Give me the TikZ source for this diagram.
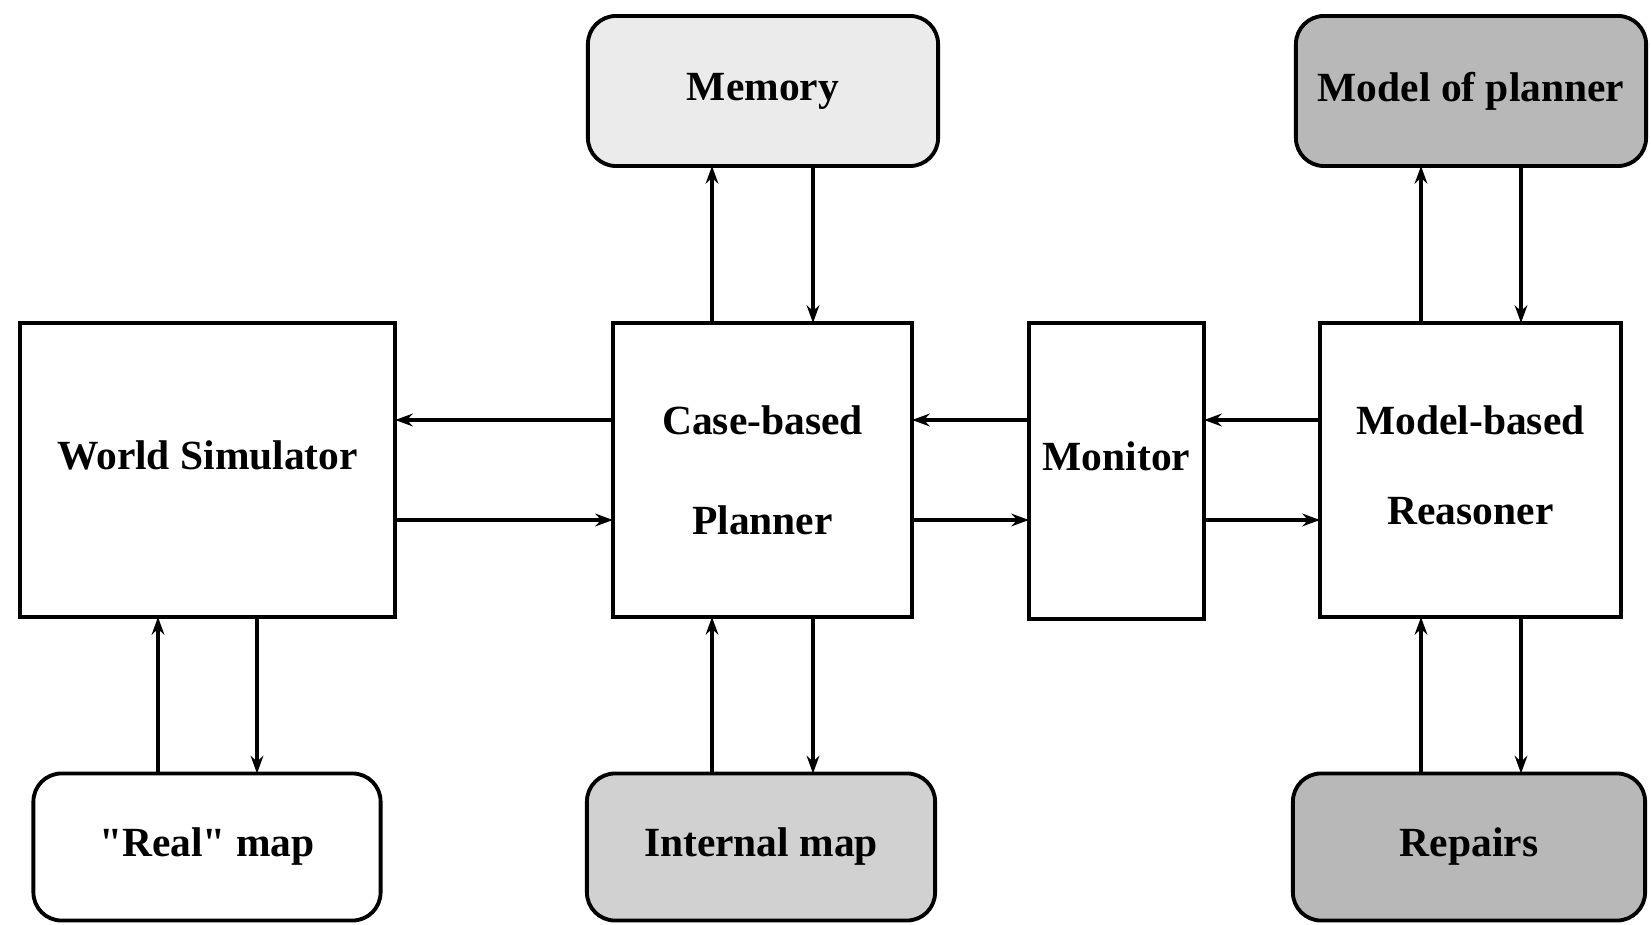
\documentclass[tikz,border=0pt]{standalone}
\usepackage{fontspec}
\setmainfont{Liberation Serif}
\usetikzlibrary{arrows.meta}
\begin{document}
\begin{tikzpicture}[x=0.01cm,y=-0.01cm,
  box/.style={draw,line width=1.1pt,inner sep=0pt,outer sep=0pt,align=center,
    font=\fontsize{11.8}{28.5}\selectfont\bfseries},
  rbox/.style={box,rounded corners=8pt},
  arr/.style={line width=0.9pt,-{Stealth[length=5pt,width=3.6pt]}}]
\useasboundingbox (0,0) rectangle (1651,925);
% rounded boxes
\node[rbox,fill=black!8,minimum width=3.50cm,minimum height=1.50cm] (mem) at (763,91) {Memory};
\node[rbox,fill=black!28,minimum width=3.50cm,minimum height=1.50cm] (mop) at (1471,91) {Model of planner};
\node[rbox,fill=white,minimum width=3.47cm,minimum height=1.47cm] (real) at (207,847) {\textquotedbl Real\textquotedbl{} map};
\node[rbox,fill=black!18,minimum width=3.48cm,minimum height=1.47cm] (imap) at (761,847) {Internal map};
\node[rbox,fill=black!28,minimum width=3.52cm,minimum height=1.47cm] (rep) at (1469,847) {Repairs};
% square boxes
\node[box,minimum width=3.75cm,minimum height=2.94cm,text depth=0.3cm] (ws) at (207.5,470) {World Simulator};
\node[box,minimum width=2.99cm,minimum height=2.94cm] (cbp) at (762.5,470) {Case-based\\Planner};
\node[box,minimum width=1.75cm,minimum height=2.96cm,text depth=0.3cm] (mon) at (1116.5,471) {Monitor};
\node[box,minimum width=3.01cm,minimum height=2.94cm,font=\fontsize{11.8}{25.6}\selectfont\bfseries,text depth=0.1cm] (mbr) at (1470.5,470) {Model-based\\Reasoner};
% guide coordinates
\coordinate (xa) at (158,0);
\coordinate (xb) at (257,0);
\coordinate (xc) at (712,0);
\coordinate (xd) at (813,0);
\coordinate (xe) at (1421,0);
\coordinate (xf) at (1521,0);
\coordinate (ya) at (0,420);
\coordinate (yb) at (0,520);
% vertical connectors
\draw[arr] (real.north -| xa) -- (ws.south -| xa);
\draw[arr] (ws.south -| xb) -- (real.north -| xb);
\draw[arr] (cbp.north -| xc) -- (mem.south -| xc);
\draw[arr] (mem.south -| xd) -- (cbp.north -| xd);
\draw[arr] (imap.north -| xc) -- (cbp.south -| xc);
\draw[arr] (cbp.south -| xd) -- (imap.north -| xd);
\draw[arr] (mbr.north -| xe) -- (mop.south -| xe);
\draw[arr] (mop.south -| xf) -- (mbr.north -| xf);
\draw[arr] (rep.north -| xe) -- (mbr.south -| xe);
\draw[arr] (mbr.south -| xf) -- (rep.north -| xf);
% horizontal connectors
\draw[arr] (cbp.west |- ya) -- (ws.east |- ya);
\draw[arr] (ws.east |- yb) -- (cbp.west |- yb);
\draw[arr] (mon.west |- ya) -- (cbp.east |- ya);
\draw[arr] (cbp.east |- yb) -- (mon.west |- yb);
\draw[arr] (mbr.west |- ya) -- (mon.east |- ya);
\draw[arr] (mon.east |- yb) -- (mbr.west |- yb);
\end{tikzpicture}
\end{document}
